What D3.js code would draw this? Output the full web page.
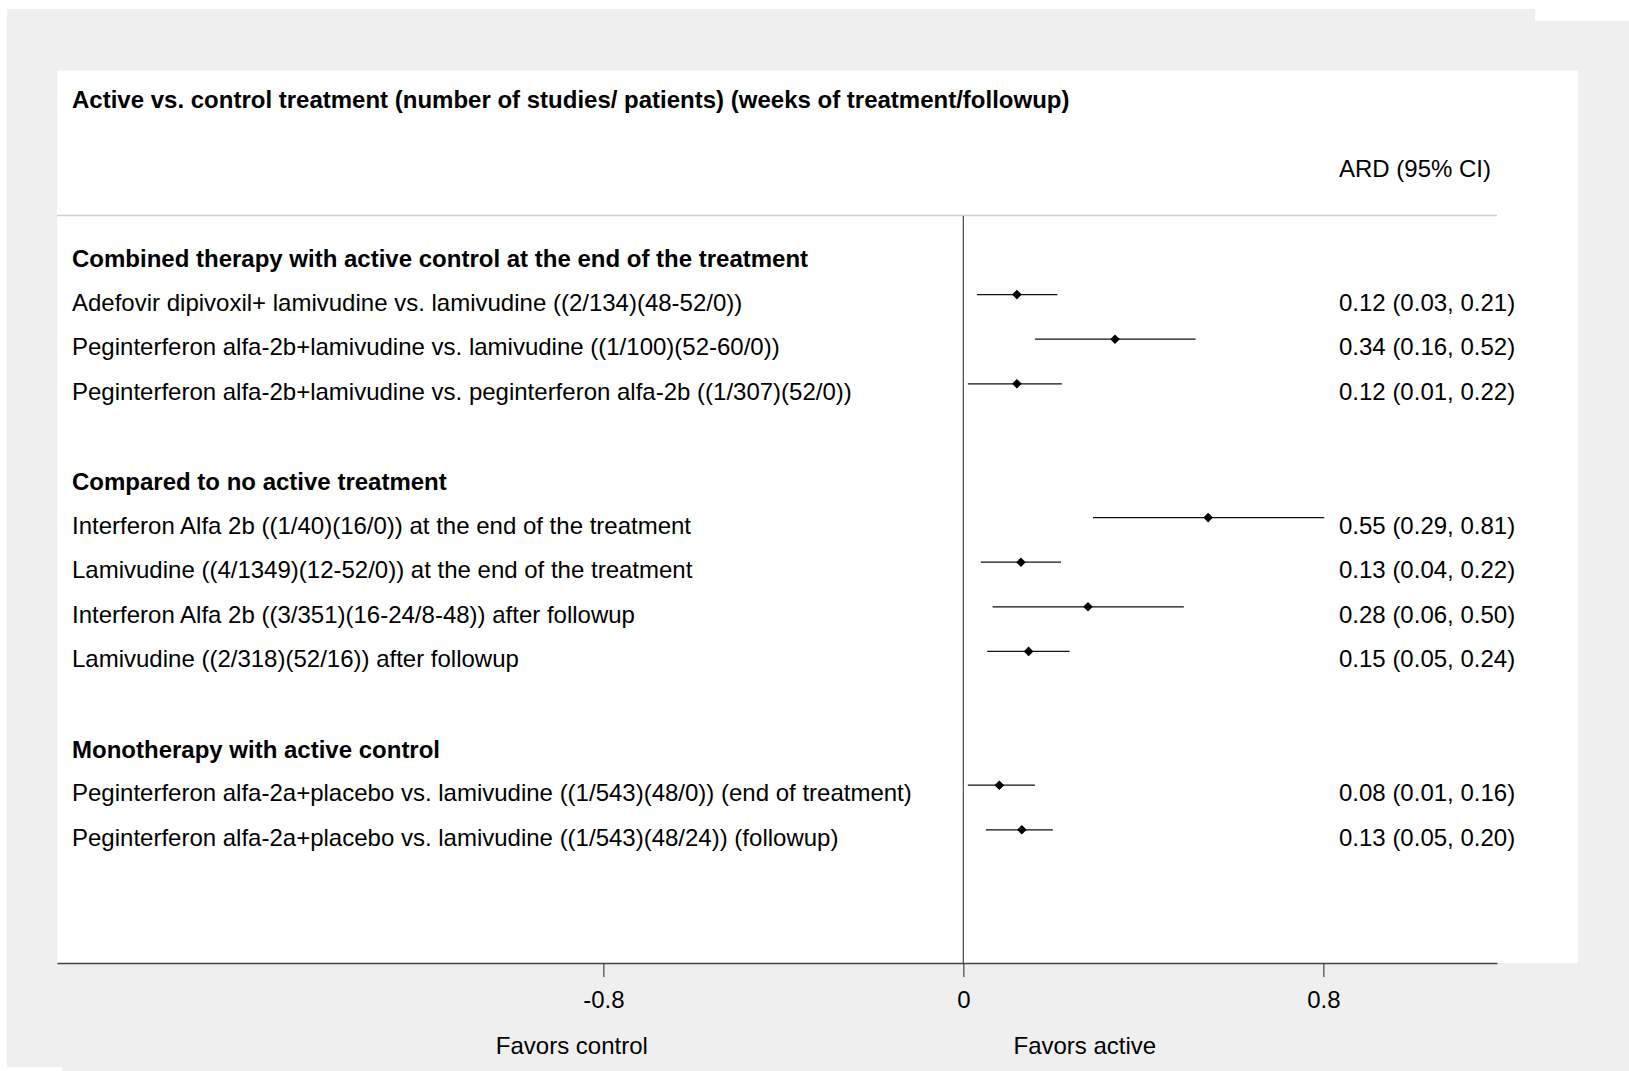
<!DOCTYPE html>
<html>
<head>
<meta charset="utf-8">
<script src="https://cdn.jsdelivr.net/npm/d3@7"></script>
<style>
  html, body { margin: 0; padding: 0; background: #ffffff; }
  svg { display: block; }
  text { font-family: "Liberation Sans", Arial, Helvetica, sans-serif; fill: #000; }
</style>
</head>
<body>
<svg id="chart" width="1629" height="1071"></svg>
<script>
// ---- data ----
const title = "Active vs. control treatment (number of studies/ patients) (weeks of treatment/followup)";
const statHeader = "ARD (95% CI)";
const groupNames = [
  "Combined therapy with active control at the end of the treatment",
  "Compared to no active treatment",
  "Monotherapy with active control"
];
const groupOf = [0, 0, 0, 1, 1, 1, 1, 2, 2];
const studyLabels = [
  "Adefovir dipivoxil+ lamivudine vs. lamivudine ((2/134)(48-52/0))",
  "Peginterferon alfa-2b+lamivudine vs. lamivudine ((1/100)(52-60/0))",
  "Peginterferon alfa-2b+lamivudine vs. peginterferon alfa-2b ((1/307)(52/0))",
  "Interferon Alfa 2b ((1/40)(16/0)) at the end of the treatment",
  "Lamivudine ((4/1349)(12-52/0)) at the end of the treatment",
  "Interferon Alfa 2b ((3/351)(16-24/8-48)) after followup",
  "Lamivudine ((2/318)(52/16)) after followup",
  "Peginterferon alfa-2a+placebo vs. lamivudine ((1/543)(48/0)) (end of treatment)",
  "Peginterferon alfa-2a+placebo vs. lamivudine ((1/543)(48/24)) (followup)"
];
// plotted values
const estimates = [0.119, 0.337, 0.119, 0.544, 0.128, 0.277, 0.145, 0.080, 0.130];
const lowerCI   = [0.030, 0.159, 0.010, 0.288, 0.039, 0.065, 0.053, 0.010, 0.050];
const upperCI   = [0.209, 0.516, 0.219, 0.802, 0.217, 0.490, 0.236, 0.159, 0.199];
// printed effect sizes
const statLabels = [
  "0.12 (0.03, 0.21)",
  "0.34 (0.16, 0.52)",
  "0.12 (0.01, 0.22)",
  "0.55 (0.29, 0.81)",
  "0.13 (0.04, 0.22)",
  "0.28 (0.06, 0.50)",
  "0.15 (0.05, 0.24)",
  "0.08 (0.01, 0.16)",
  "0.13 (0.05, 0.20)"
];
const tickValues = [-0.8, 0, 0.8];
const tickLabels = ["-0.8", "0", "0.8"];
const sideLabels = ["Favors control", "Favors active"];
const sideAt = [-0.87, 0.27];

// ---- layout rows: group header, studies, blank spacer ----
const rows = [];
let slot = 0;
groupNames.forEach((g, gi) => {
  rows.push({type: "header", text: g, slot: slot++});
  studyLabels.forEach((s, i) => {
    if (groupOf[i] === gi) rows.push({type: "study", i, slot: slot++});
  });
  slot++; // blank line
});
const nSlots = slot - 1;

const svg = d3.select("#chart");

// background
svg.append("path")
  .attr("d", "M7,9 H1535 V21 H1629 V1071 H62 V1067 H7 Z")
  .attr("fill", "#efefef");
// plot panel
svg.append("rect").attr("x", 57).attr("y", 70.5).attr("width", 1521).attr("height", 892.5).attr("fill", "#ffffff");

const x = d3.scaleLinear().domain([-2.0141, 1.1859]).range([57, 1497]);
const y = d3.scaleLinear().domain([0, nSlots - 1]).range([250, 250 + 44.6 * (nSlots - 1)]);

// title + header
svg.append("text").attr("x", 72).attr("y", 108).attr("font-size", 24).attr("font-weight", "bold").text(title);
svg.append("text").attr("x", 1339).attr("y", 177).attr("font-size", 24).text(statHeader);

// header divider
svg.append("line").attr("x1", 57).attr("x2", 1497).attr("y1", 215.5).attr("y2", 215.5)
  .attr("stroke", "#cfcfcf").attr("stroke-width", 1.5);

// zero line
svg.append("line").attr("x1", x(0)).attr("x2", x(0)).attr("y1", 216).attr("y2", 963)
  .attr("stroke", "#555").attr("stroke-width", 1.3);

// axis
const axis = d3.axisBottom(x).tickValues(tickValues).tickSize(14).tickSizeOuter(0)
  .tickFormat((d, i) => tickLabels[i]);
const ag = svg.append("g").attr("transform", "translate(0,963)").call(axis);
ag.select(".domain").attr("stroke", "#444").attr("stroke-width", 1.3);
ag.selectAll(".tick line").attr("stroke", "#444").attr("stroke-width", 1.2);
ag.selectAll(".tick text").attr("font-size", 24).attr("font-family", "Liberation Sans, Arial, sans-serif")
  .attr("fill", "#000").attr("y", 0).attr("dy", 0).attr("transform", "translate(0,45)");

sideLabels.forEach((s, i) => {
  svg.append("text").attr("x", x(sideAt[i])).attr("y", 1054).attr("font-size", 24)
    .attr("text-anchor", "middle").text(s);
});

// rows
const g = svg.append("g");
rows.forEach(r => {
  const yy = y(r.slot);
  if (r.type === "header") {
    g.append("text").attr("x", 72).attr("y", yy + 17).attr("font-size", 24).attr("font-weight", "bold").text(r.text);
  } else {
    const i = r.i;
    g.append("text").attr("x", 72).attr("y", yy + 16).attr("font-size", 24).text(studyLabels[i]);
    g.append("text").attr("x", 1339).attr("y", yy + 16).attr("font-size", 24).text(statLabels[i]);
    g.append("line").attr("x1", x(lowerCI[i])).attr("x2", x(upperCI[i]))
      .attr("y1", yy).attr("y2", yy).attr("stroke", "#111").attr("stroke-width", 1.2);
    const cx = x(estimates[i]), s = 4.8;
    g.append("path").attr("d", `M${cx},${yy - s} L${cx + s},${yy} L${cx},${yy + s} L${cx - s},${yy} Z`)
      .attr("fill", "#000");
  }
});
</script>
</body>
</html>
